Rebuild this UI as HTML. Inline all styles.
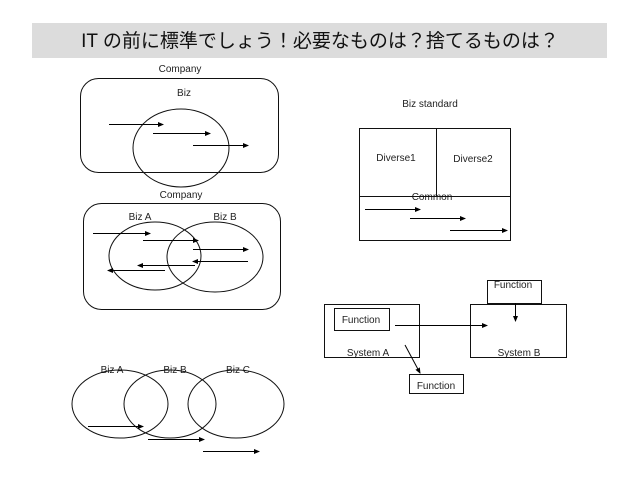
<!DOCTYPE html>
<html><head><meta charset="utf-8"><style>
body{margin:0;background:#fff;}
svg{display:block;font-family:"Liberation Sans","Noto Sans CJK JP",sans-serif;}
</style></head><body>
<svg width="638" height="479" viewBox="0 0 638 479" xmlns="http://www.w3.org/2000/svg">
<defs><marker id="a" markerWidth="6" markerHeight="6" refX="5" refY="3" orient="auto" markerUnits="userSpaceOnUse"><path d="M0,0.5 L6,3 L0,5.5z" fill="#000"/></marker></defs>
<rect x="32" y="23" width="575" height="35" fill="#dcdcdc"/>
<text x="320" y="47" font-size="19" text-anchor="middle" fill="#111">IT の前に標準でしょう！必要なものは？捨てるものは？</text>
<g font-size="10" fill="#222" text-anchor="middle">
<text x="180" y="72">Company</text>
<text x="184" y="96">Biz</text>
<text x="181" y="198">Company</text>
<text x="140" y="220">Biz A</text>
<text x="225" y="220">Biz B</text>
<text x="430" y="107">Biz standard</text>
<text x="396" y="161">Diverse1</text>
<text x="473" y="162">Diverse2</text>
<text x="432" y="200">Common</text>
<text x="513" y="288">Function</text>
<text x="361" y="323">Function</text>
<text x="368" y="356">System A</text>
<text x="519" y="356">System B</text>
<text x="436" y="389">Function</text>
<text x="112" y="373">Biz A</text>
<text x="175" y="373">Biz B</text>
<text x="238" y="373">Biz C</text>
</g>
<g fill="none" stroke="#111" stroke-width="1">
<rect x="80.5" y="78.5" width="198" height="94" rx="18"/>
<ellipse cx="181" cy="148" rx="48" ry="39"/>
<rect x="83.5" y="203.5" width="197" height="106" rx="18"/>
<ellipse cx="155" cy="256" rx="46" ry="34"/>
<ellipse cx="215" cy="257" rx="48" ry="35"/>
<rect x="359.5" y="128.5" width="151" height="112"/>
<line x1="436.5" y1="128" x2="436.5" y2="196"/>
<line x1="359" y1="196.5" x2="511" y2="196.5"/>
<rect x="487.5" y="280.5" width="54" height="23"/>
<rect x="324.5" y="304.5" width="95" height="53"/>
<rect x="334.5" y="308.5" width="55" height="22"/>
<rect x="470.5" y="304.5" width="96" height="53"/>
<rect x="409.5" y="374.5" width="54" height="19"/>
<ellipse cx="120" cy="404" rx="48" ry="34"/>
<ellipse cx="170" cy="404" rx="46" ry="34"/>
<ellipse cx="236" cy="404" rx="48" ry="34"/>
</g>
<g stroke="#000" stroke-width="1" marker-end="url(#a)">
<line x1="109" y1="124.5" x2="163" y2="124.5"/>
<line x1="153" y1="133.5" x2="210" y2="133.5"/>
<line x1="193" y1="145.5" x2="248" y2="145.5"/>
<line x1="93" y1="233.5" x2="150" y2="233.5"/>
<line x1="143" y1="240.5" x2="198" y2="240.5"/>
<line x1="193" y1="249.5" x2="248" y2="249.5"/>
<line x1="248" y1="261.5" x2="193" y2="261.5"/>
<line x1="195" y1="265.5" x2="138" y2="265.5"/>
<line x1="165" y1="270.5" x2="108" y2="270.5"/>
<line x1="365" y1="209.5" x2="420" y2="209.5"/>
<line x1="410" y1="218.5" x2="465" y2="218.5"/>
<line x1="450" y1="230.5" x2="507" y2="230.5"/>
<line x1="395" y1="325.5" x2="487" y2="325.5"/>
<line x1="515.5" y1="303" x2="515.5" y2="321"/>
<line x1="405" y1="345" x2="420" y2="373"/>
<line x1="88" y1="426.5" x2="143" y2="426.5"/>
<line x1="148" y1="439.5" x2="204" y2="439.5"/>
<line x1="203" y1="451.5" x2="259" y2="451.5"/>
</g>
</svg>
</body></html>
